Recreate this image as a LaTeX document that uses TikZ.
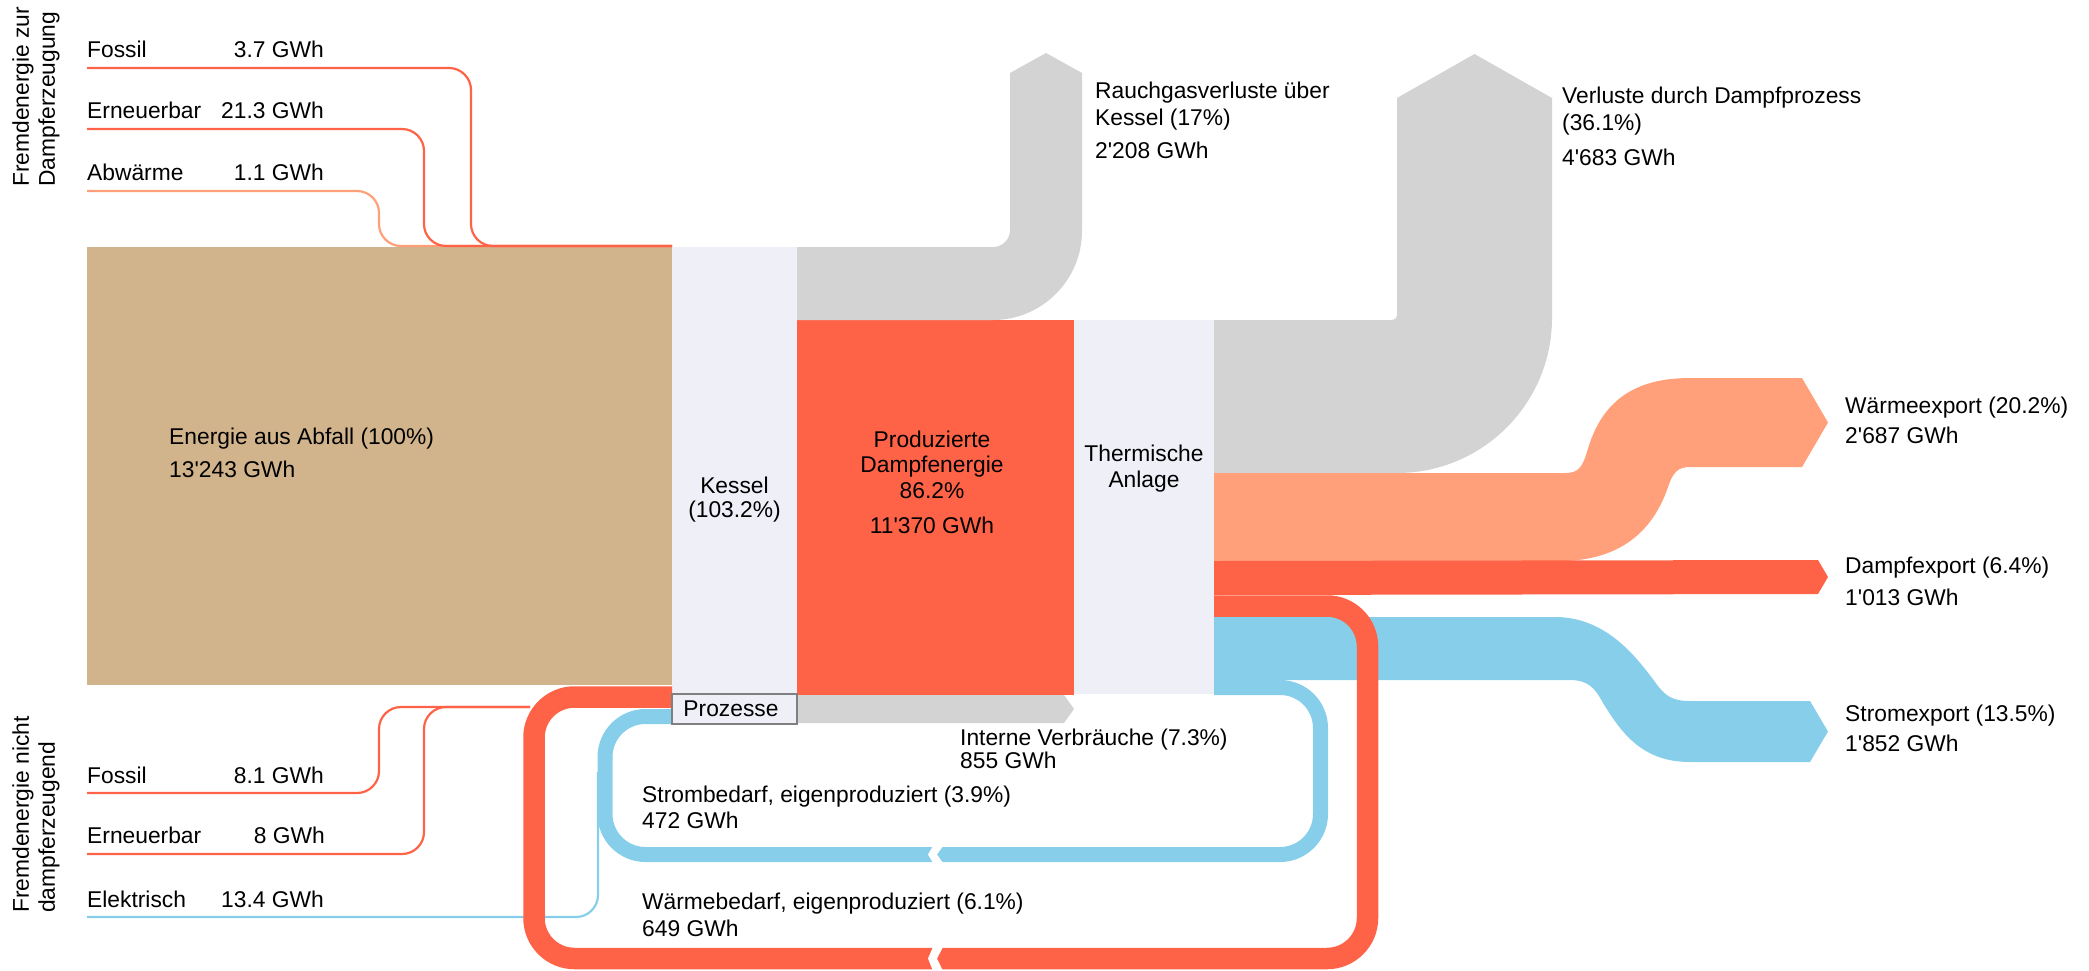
\documentclass[tikz,border=0pt]{standalone}
\usepackage{fontspec}
\setmainfont{Liberation Sans}
\definecolor{tanc}{HTML}{D2B48C}
\definecolor{boxc}{HTML}{EFEFF8}
\definecolor{redc}{HTML}{FF6347}
\definecolor{salc}{HTML}{FFA07A}
\definecolor{bluc}{HTML}{87CEEB}
\definecolor{grayc}{HTML}{D3D3D3}
\newcommand{\ap}{\textquotesingle}
\begin{document}
\begin{tikzpicture}[x=1pt,y=-1pt,
  txt/.style={font=\fontsize{22.8}{26}\selectfont, inner sep=0pt, text=black},
  lw/.style={txt, anchor=base west},
  le/.style={txt, anchor=base east},
  lc/.style={txt, anchor=base},
  blk/.style={draw=none, inner sep=0pt, outer sep=0pt, anchor=north west},
  thinline/.style={line width=2.2pt, rounded corners=22pt},
]
\useasboundingbox (0,0) rectangle (2089,970);

% main blocks
\node[blk, fill=tanc, minimum width=585pt, minimum height=438pt] (abfall) at (87,247) {};
\draw[salc, thinline] (87,191) -- (379,191) -- (379,246) -- (672,246);
\draw[redc, thinline] (87,129) -- (424,129) -- (424,246) -- (672,246);
\draw[redc, thinline] (87,68) -- (471,68) -- (471,246) -- (672,246);

\node[blk, fill=boxc, minimum width=125pt, minimum height=447pt] (kessel) at (672,247) {};
\node[blk, fill=redc, minimum width=277pt, minimum height=375pt] (dampf) at (797,320) {};
\node[blk, fill=boxc, minimum width=140pt, minimum height=374pt] (anlage) at (1074,320) {};

% losses
\fill[grayc] (797,247) -- (993,247) .. controls (1002.4,247) and (1010,239.4) .. (1010,230) -- (1010,73) -- (1046,53) -- (1082,73) -- (1082,231) .. controls (1082,280) and (1042,320) .. (993,320) -- (797,320) -- cycle;
\fill[grayc] (1214,320) -- (1392,320) .. controls (1395,320) and (1397,318) .. (1397,315) -- (1397,98) -- (1474.5,54) -- (1552,98) -- (1552,318) .. controls (1552,403.6) and (1482.6,473) .. (1397,473) -- (1214,473) -- cycle;

% exports
\fill[salc] (1214,473) -- (1565,473) .. controls (1578,473) and (1582,468) .. (1587,452) .. controls (1600,405) and (1630,378) .. (1690,378) -- (1802,378) -- (1828,422.5) -- (1802,467) -- (1690,467) .. controls (1678,467) and (1673,472) .. (1668,487) .. controls (1650,540) and (1610,561) .. (1560,561) -- (1214,561) -- cycle;
\fill[redc] (1214,561) -- (1818,560) -- (1828,577) -- (1818,594) -- (1214,595) -- cycle;
\fill[bluc] (1214,617) -- (1555,617) .. controls (1605,617) and (1635,655) .. (1655,682) .. controls (1665,696) and (1672,701) .. (1690,701) -- (1810,701) -- (1828,731.5) -- (1810,762) -- (1690,762) .. controls (1640,762) and (1620,730) .. (1603,703) .. controls (1595,688) and (1588,680) .. (1570,680) -- (1214,680) -- cycle;

% internal consumption
\fill[grayc] (797,695) -- (1064,695) -- (1074,709) -- (1064,723) -- (797,723) -- cycle;

% blue loop
\draw[bluc, line width=15pt, rounded corners=40.5pt] (1214,687.5) -- (1320.5,687.5) -- (1320.5,854.5) -- (605,854.5) -- (605,716.5) -- (672,716.5);
\fill[white] (933,846) -- (928,854.5) -- (933,863) -- (943,863) -- (937,854.5) -- (943,846) -- cycle;
\draw[bluc, line width=2.2pt, rounded corners=22pt] (87,917) -- (598,917) -- (598,772);

% bottom-left red lines
\draw[redc, thinline] (87,793) -- (379,793) -- (379,707) -- (530,707);
\draw[redc, thinline] (87,854) -- (424,854) -- (424,707) -- (530,707);

% red loop
\draw[redc, line width=21.5pt, rounded corners=40.5pt] (1214,606) -- (1367.5,606) -- (1367.5,958.5) -- (534,958.5) -- (534,697) -- (672,697);
\fill[white] (933,947) -- (928,958.5) -- (933,971) -- (943,971) -- (937,958.5) -- (943,947) -- cycle;

\node[blk, fill=boxc, draw={rgb,255:red,128;green,128;blue,128}, line width=2pt, minimum width=125pt, minimum height=30pt] (proz) at (672,694) {};
\node[txt, anchor=center] (tproz) at (731,709) {Prozesse};

% left labels
\node[txt, rotate=90, anchor=west, align=left] (lab1) at (36,187) {Fremdenergie zur\\Dampferzeugung};
\node[txt, rotate=90, anchor=west, align=left] (lab2) at (36,913) {Fremdenergie nicht\\dampferzeugend};
\node[lw] (f1) at (87,57) {Fossil};
\node[le] (f1v) at (324,57) {3.7 GWh};
\node[lw] (e1) at (87,118) {Erneuerbar};
\node[le] (e1v) at (324,118) {21.3 GWh};
\node[lw] (a1) at (87,180) {Abwärme};
\node[le] (a1v) at (324,180) {1.1 GWh};
\node[lw] (f2) at (87,783) {Fossil};
\node[le] (f2v) at (324,783) {8.1 GWh};
\node[lw] (e2) at (87,843) {Erneuerbar};
\node[le] (e2v) at (325,843) {8 GWh};
\node[lw] (el) at (87,907) {Elektrisch};
\node[le] (elv) at (324,907) {13.4 GWh};

% block labels
\node[lw] (tab1) at (169,444) {Energie aus Abfall (100\%)};
\node[lw] (tab2) at (169,477) {13\ap 243 GWh};
\node[lc] (tk1) at (734.5,493) {Kessel};
\node[lc] (tk2) at (734.5,517) {(103.2\%)};
\node[lc] (td1) at (932,447) {Produzierte};
\node[lc] (td2) at (932,472) {Dampfenergie};
\node[lc] (td3) at (932,498) {86.2\%};
\node[lc] (td4) at (932,533) {11\ap 370 GWh};
\node[lc] (tt1) at (1144,461) {Thermische};
\node[lc] (tt2) at (1144,487) {Anlage};

% flow labels
\node[lw] (tr1) at (1095,98) {Rauchgasverluste über};
\node[lw] (tr2) at (1095,125) {Kessel (17\%)};
\node[lw] (tr3) at (1095,158) {2\ap 208 GWh};
\node[lw] (tv1) at (1562,103) {Verluste durch Dampfprozess};
\node[lw] (tv2) at (1562,130) {(36.1\%)};
\node[lw] (tv3) at (1562,165) {4\ap 683 GWh};
\node[lw] (tw1) at (1845,413) {Wärmeexport (20.2\%)};
\node[lw] (tw2) at (1845,443) {2\ap 687 GWh};
\node[lw] (tde1) at (1845,573) {Dampfexport (6.4\%)};
\node[lw] (tde2) at (1845,605) {1\ap 013 GWh};
\node[lw] (ts1) at (1845,721) {Stromexport (13.5\%)};
\node[lw] (ts2) at (1845,751) {1\ap 852 GWh};
\node[lw] (ti1) at (960,745) {Interne Verbräuche (7.3\%)};
\node[lw] (ti2) at (960,768) {855 GWh};
\node[lw] (tsb1) at (642,802) {Strombedarf, eigenproduziert (3.9\%)};
\node[lw] (tsb2) at (642,828) {472 GWh};
\node[lw] (twb1) at (642,909) {Wärmebedarf, eigenproduziert (6.1\%)};
\node[lw] (twb2) at (642,936) {649 GWh};
\end{tikzpicture}
\end{document}
